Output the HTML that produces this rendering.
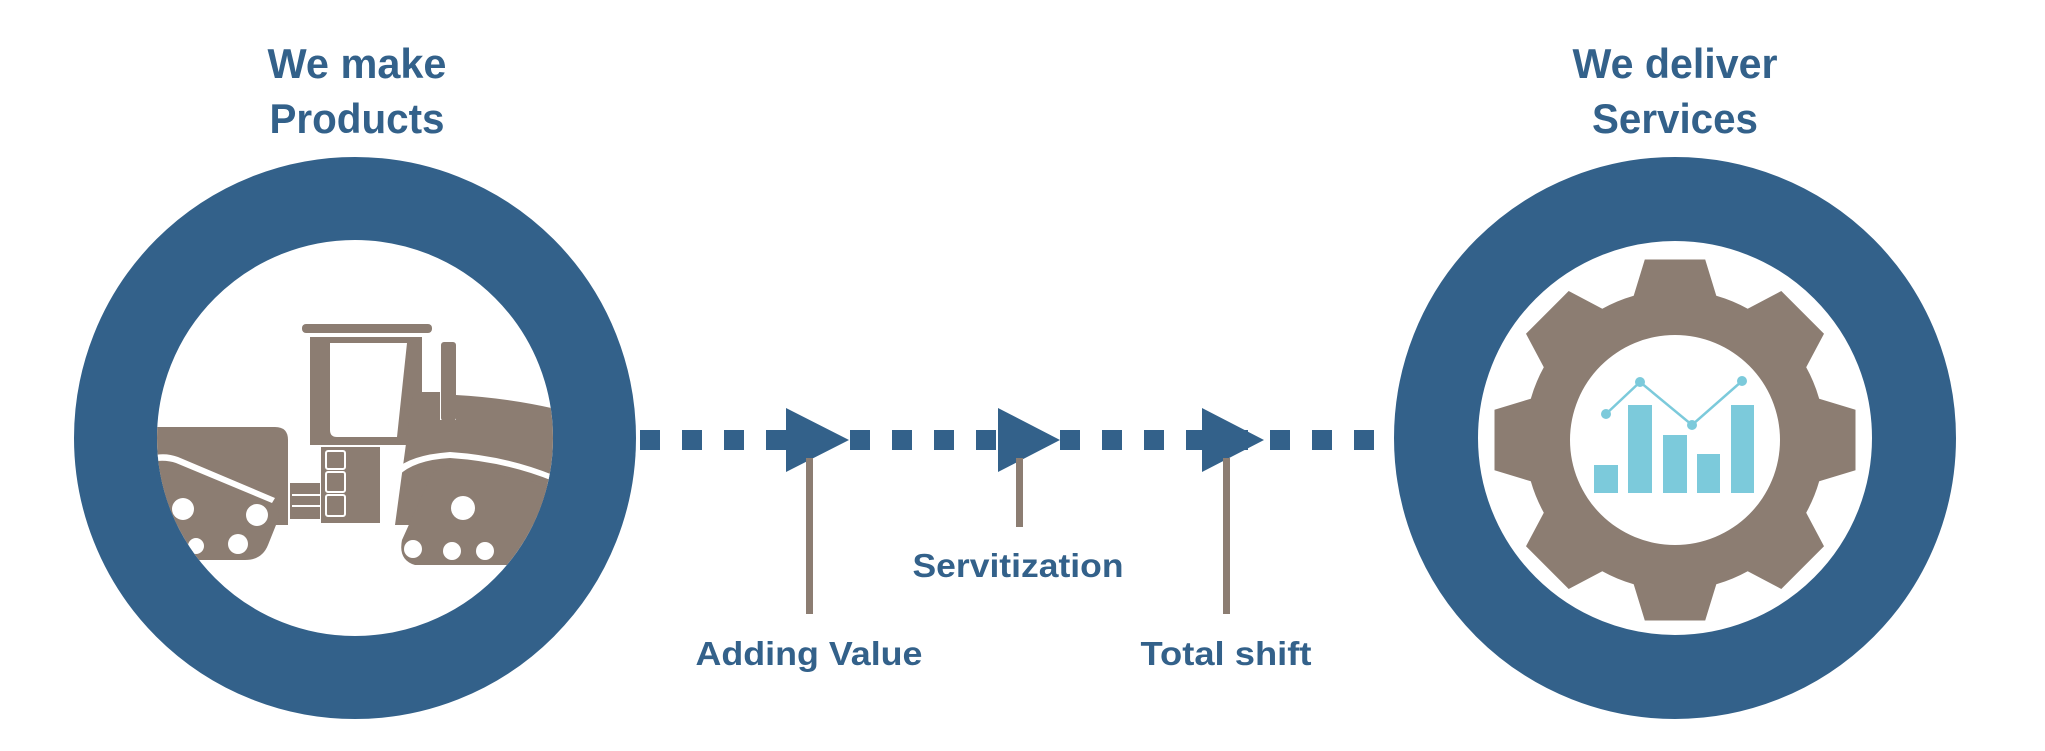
<!DOCTYPE html>
<html><head><meta charset="utf-8">
<style>
html,body{margin:0;padding:0;background:#fff;}
svg{display:block;}
text{font-family:"Liberation Sans",sans-serif;font-weight:bold;fill:#33618a;}
</style></head>
<body>
<svg id="s" width="2045" height="751" viewBox="0 0 2045 751" xmlns="http://www.w3.org/2000/svg">
<defs>
<clipPath id="lc"><circle cx="355" cy="438" r="198"/></clipPath>
</defs>
<!-- titles -->
<text x="357" y="78" font-size="42" text-anchor="middle" textLength="179" lengthAdjust="spacingAndGlyphs">We make</text>
<text x="357" y="133" font-size="42" text-anchor="middle" textLength="175" lengthAdjust="spacingAndGlyphs">Products</text>
<text x="1675" y="78" font-size="42" text-anchor="middle" textLength="205" lengthAdjust="spacingAndGlyphs">We deliver</text>
<text x="1675" y="133" font-size="42" text-anchor="middle" textLength="166" lengthAdjust="spacingAndGlyphs">Services</text>

<!-- dashes -->
<g id="dashes" fill="#33618a"></g>
<!-- arrows -->
<polygon points="786,408 849,440 786,472" fill="#33618a"/>
<polygon points="998,408 1060,440 998,472" fill="#33618a"/>
<polygon points="1202,408 1264,440 1202,472" fill="#33618a"/>
<!-- stems -->
<rect x="806" y="458" width="7" height="156" fill="#8c7d72"/>
<rect x="1016" y="458" width="7" height="69" fill="#8c7d72"/>
<rect x="1223" y="458" width="7" height="156" fill="#8c7d72"/>
<text x="1018" y="577" font-size="33" text-anchor="middle" textLength="211" lengthAdjust="spacingAndGlyphs">Servitization</text>
<text x="809" y="665" font-size="33" text-anchor="middle" textLength="227" lengthAdjust="spacingAndGlyphs">Adding Value</text>
<text x="1226" y="665" font-size="33" text-anchor="middle" textLength="171" lengthAdjust="spacingAndGlyphs">Total shift</text>

<!-- left ring -->
<circle cx="355" cy="438" r="239.5" fill="none" stroke="#33618a" stroke-width="83"/>
<g clip-path="url(#lc)" fill="#8c7d72">
  <rect x="302" y="324" width="130" height="9" rx="4"/>
  <path d="M310,337 H422 V445 H310 Z M330,343 V430 Q330,437 337,437 H397 L407,343 Z" fill-rule="evenodd"/>
  <rect x="441" y="342" width="15" height="79" rx="3"/>
  <path d="M413,392 H440 V420 H456 V395 Q510,398 560,410 V525 H395 Z"/>
  <path d="M150,427 H275 Q288,427 288,440 V525 H150 Z"/>
  <rect x="321" y="447" width="59" height="76"/>
  <rect x="290" y="483" width="30" height="36"/>
  <path d="M150,462 Q160,458 175,462 L270,500 Q282,508 278,520 L268,545 Q262,560 245,560 H150 Z"/>
  <path d="M402,540 L430,478 Q436,466 450,466 Q500,470 560,490 V565 H415 Q398,560 402,540 Z"/>
</g>
<g clip-path="url(#lc)" fill="#fff">
  <path d="M150,456 Q165,452 178,457 L275,498 L272,503 L176,463 Q165,459 150,462 Z"/>
  <path d="M395,470 Q410,455 450,452 Q510,456 560,478 L560,484 Q510,462 450,458 Q414,460 398,476 Z"/>
  <rect x="326" y="451" width="19" height="18" rx="2" fill="none" stroke="#fff" stroke-width="2"/>
  <rect x="326" y="472" width="19" height="20" rx="2" fill="none" stroke="#fff" stroke-width="2"/>
  <rect x="326" y="495" width="19" height="21" rx="2" fill="none" stroke="#fff" stroke-width="2"/>
  <rect x="292" y="494" width="28" height="2"/>
  <rect x="292" y="505" width="28" height="2"/>
  <circle cx="183" cy="509" r="11"/><circle cx="257" cy="515" r="11"/>
  <circle cx="238" cy="544" r="10"/><circle cx="196" cy="546" r="8"/>
  <circle cx="463" cy="508" r="12"/><circle cx="413" cy="549" r="9"/>
  <circle cx="452" cy="551" r="9"/><circle cx="485" cy="551" r="9"/><circle cx="540" cy="540" r="9"/>
</g>

<!-- right ring -->
<circle cx="1675" cy="438" r="239" fill="none" stroke="#33618a" stroke-width="84"/>
<path id="gear" fill="#8c7d72" fill-rule="evenodd" d=""/>
<g fill="#7ccadb">
  <rect x="1594" y="465" width="24" height="28"/>
  <rect x="1628" y="405" width="24" height="88"/>
  <rect x="1663" y="435" width="24" height="58"/>
  <rect x="1697" y="454" width="23" height="39"/>
  <rect x="1731" y="405" width="23" height="88"/>
</g>
<polyline points="1606,414 1640,382 1692,425 1742,381" fill="none" stroke="#7ccadb" stroke-width="2.5"/>
<g fill="#7ccadb"><circle cx="1606" cy="414" r="5"/><circle cx="1640" cy="382" r="5"/><circle cx="1692" cy="425" r="5"/><circle cx="1742" cy="381" r="5"/></g>
</svg>
<script>
(function(){
  var g=document.getElementById('dashes'),h='';
  for(var x=640;x<1392;x+=42){h+='<rect x="'+x+'" y="430" width="20" height="20"/>';}
  g.innerHTML=h;
  var cx=1675,cy=440,R=183,r=150,d='';
  var tipHalf=9.5*Math.PI/180, baseHalf=16*Math.PI/180;
  for(var i=0;i<8;i++){
    var a=-Math.PI/2+i*Math.PI/4;
    var pts=[[r,a-baseHalf],[R,a-tipHalf],[R,a+tipHalf],[r,a+baseHalf]];
    pts.forEach(function(p,j){
      var px=cx+p[0]*Math.cos(p[1]),py=cy+p[0]*Math.sin(p[1]);
      d+=(i==0&&j==0?'M':(j==0?'A'+r+','+r+' 0 0 1 ':'L'))+px.toFixed(1)+','+py.toFixed(1)+' ';
    });
  }
  var a0=-Math.PI/2-baseHalf;
  d+='A'+r+','+r+' 0 0 1 '+(cx+r*Math.cos(a0)).toFixed(1)+','+(cy+r*Math.sin(a0)).toFixed(1)+' Z ';
  d+='M'+(cx+105)+','+cy+' A105,105 0 1 0 '+(cx-105)+','+cy+' A105,105 0 1 0 '+(cx+105)+','+cy+' Z';
  document.getElementById('gear').setAttribute('d',d);
})();
</script>
</body></html>
